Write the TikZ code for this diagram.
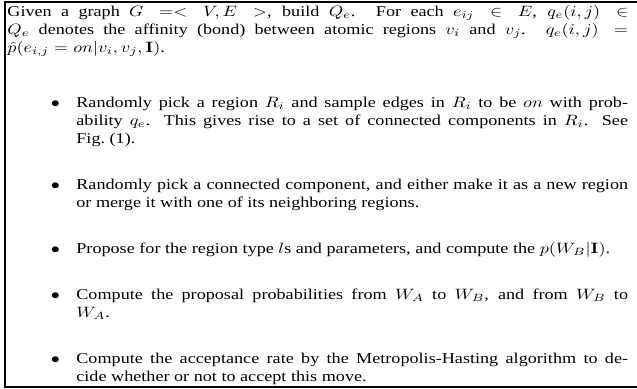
\documentclass[tikz,border=0pt]{standalone}
\usepackage[no-math]{fontspec}
\setmainfont{Liberation Serif}
\usetikzlibrary{positioning}

% bullet list used for the sampling steps
\newenvironment{steplist}{%
  \begin{list}{$\bullet$}{%
    \setlength{\leftmargin}{38pt}\setlength{\labelsep}{9pt}%
    \setlength{\labelwidth}{29pt}\setlength{\rightmargin}{0pt}%
    \setlength{\topsep}{25pt}\setlength{\partopsep}{0pt}%
    \setlength{\itemsep}{18.7pt}\setlength{\parsep}{0pt}}}%
  {\end{list}}

\tikzset{
  frame/.style={line width=1.4pt},
  steptext/.style={anchor=base west,inner sep=0pt,xscale=1.21,transform shape,
    font=\fontsize{10pt}{12pt}\selectfont}
}

\begin{document}
\begin{tikzpicture}[x=1pt,y=1pt]
  \useasboundingbox (0,0) rectangle (424.7,-259.3);
  % open frame: top, left and bottom rules
  \draw[frame] (424.7,-1.2) -- (3.3,-1.2) -- (3.3,-258.2) -- (424.7,-258.2);
  \begin{scope}[shift={(4.7,-10.7)}]
  \node[steptext] (steps) at (0,0) {\begin{minipage}[t]{342pt}
    Given a graph $G =< V, E >$, build $Q_e$. For each $e_{ij} \in E$, $q_e(i,j) \in$\linebreak
    $Q_e$ denotes the affinity (bond) between atomic regions $v_i$ and $v_j$. $q_e(i,j) =$\linebreak
    $\hat{p}(e_{i,j} = on|v_i, v_j, \mathbf{I})$.
    \begin{steplist}
      \item Randomly pick a region $R_i$ and sample edges in $R_i$ to be $on$ with prob-\linebreak
        ability $q_e$. This gives rise to a set of connected components in $R_i$. See\linebreak
        Fig.~(1).
      \item Randomly pick a connected component, and either make it as a new region\linebreak
        or merge it with one of its neighboring regions.
      \item Propose for the region type $l$s and parameters, and compute the $p(W_B|\mathbf{I})$.
      \item Compute the proposal probabilities from $W_A$ to $W_B$, and from $W_B$ to\linebreak
        $W_A$.
      \item Compute the acceptance rate by the Metropolis-Hasting algorithm to de-\linebreak
        cide whether or not to accept this move.
    \end{steplist}
  \end{minipage}};
  \end{scope}
\end{tikzpicture}
\end{document}
